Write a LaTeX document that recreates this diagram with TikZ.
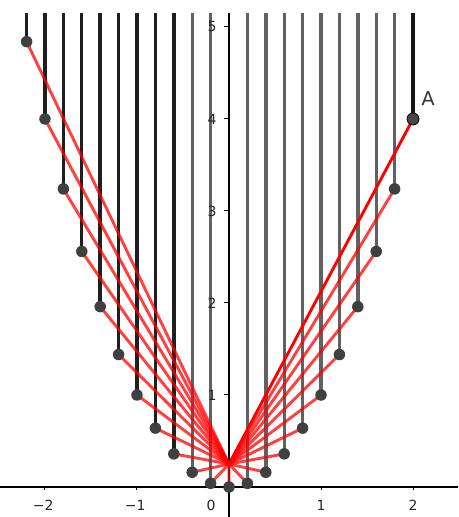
\documentclass[tikz,border=0pt]{standalone}
\usepackage{fontspec}
\setmainfont{DejaVu Sans}
\begin{document}
\begin{tikzpicture}[x=92pt,y=92pt,
  rayL/.style={line width=3.4pt,color=black!88},
  rayR/.style={line width=3.4pt,color=black!62},
  focal/.style={line width=2.9pt,red,opacity=0.75},
  ptnode/.style={circle,fill=black!75,inner sep=0pt,minimum size=11.5pt},
  axisline/.style={line width=1.3pt,black},
  ticklbl/.style={font=\fontsize{14}{14}\selectfont,text=black!85,inner sep=0pt}]
\useasboundingbox (-2.489,-0.326) rectangle (2.489,5.293);
\coordinate (F) at (0,0.25);
\foreach \i in {0,...,21} {
  \pgfmathsetmacro\xx{-2.2+0.2*\i}
  \coordinate (p\i) at (\xx,{\xx*\xx});
  \coordinate (t\i) at (\xx,5.152);
}
% vertical rays
\foreach \i in {0,...,8} { \draw[rayL] (t\i) -- (p\i); }
\foreach \i in {9,10,12,13,14,15,16,17,18,19,20} { \draw[rayR] (t\i) -- (p\i); }
\draw[line width=3.4pt,black!92] (t21) -- (p21);
% axes
\coordinate (xl) at (-2.489,0);
\coordinate (xr) at (2.489,0);
\coordinate (yb) at (0,-0.326);
\coordinate (yt) at (0,5.152);
\draw[axisline] (xl) -- (xr);
\draw[axisline] (yb) -- (yt);
\foreach \v in {-2,-1,1,2} {
  \coordinate (xa\v) at (\v,0);
  \coordinate (xb\v) at (\v,-0.035);
  \draw[line width=1pt] (xa\v) -- (xb\v);
}
\foreach \v in {1,...,5} {
  \coordinate (ya\v) at (0,\v);
  \coordinate (yb\v) at (-0.05,\v);
  \draw[line width=1pt] (ya\v) -- (yb\v);
  \node[ticklbl] (yl\v) at (-0.185,\v) {\v};
}
\node[ticklbl] (xlm2) at (-2.02,-0.196) {−2};
\node[ticklbl] (xlm1) at (-1.02,-0.196) {−1};
\node[ticklbl] (xl0) at (-0.196,-0.196) {0};
\node[ticklbl] (xl1) at (1,-0.196) {1};
\node[ticklbl] (xl2) at (2,-0.196) {2};
% focal lines
\foreach \i in {0,...,20} { \draw[focal] (p\i) -- (F); }
\draw[line width=2.9pt,red] (p21) -- (F);
% points
\foreach \i in {0,...,20} { \node[ptnode] (q\i) at (p\i) {}; }
\node[circle,fill=black!72,draw=black,line width=0.8pt,inner sep=0pt,minimum size=12pt] (A) at (p21) {};
\node[font=\fontsize{19}{19}\selectfont,text=black!80,inner sep=0pt] (Alabel) at (2.163,4.217) {A};
\end{tikzpicture}
\end{document}
